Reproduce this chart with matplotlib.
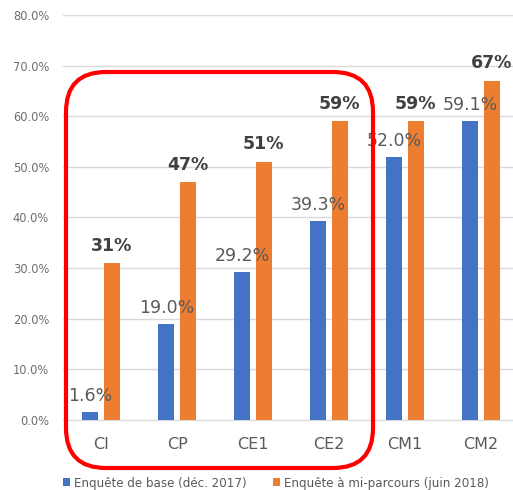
import matplotlib
matplotlib.use("Agg")
import matplotlib.pyplot as plt
import numpy as np
from matplotlib.patches import FancyBboxPatch
from matplotlib.transforms import IdentityTransform

categories = ["CI", "CP", "CE1", "CE2", "CM1", "CM2"]
base_vals = [1.6, 19.0, 29.2, 39.3, 52.0, 59.1]
mid_vals = [31, 47, 51, 59, 59, 67]
series_names = ["Enquête de base (déc. 2017)", "Enquête à mi-parcours (juin 2018)"]
yticks = [0, 10, 20, 30, 40, 50, 60, 70, 80]

blue = "#4472C4"
orange = "#ED7D31"
grey = "#595959"

fig = plt.figure(figsize=(5.13, 4.9), dpi=100)
ax = fig.add_axes([63/513, 70/490, 1 - 63/513, 405/490])

x = np.arange(len(categories))
w = 0.21
gap = 0.035
b1 = ax.bar(x - w/2 - gap, base_vals, w, color=blue, label=series_names[0], zorder=3)
b2 = ax.bar(x + w/2 + gap, mid_vals, w, color=orange, label=series_names[1], zorder=3)

for rect, v in zip(b1, base_vals):
    ax.annotate(f"{v:.1f}%", (rect.get_x() + rect.get_width()/2, v),
                xytext=(0, 5), textcoords="offset points", ha="center", va="bottom",
                fontsize=12.5, color=grey, zorder=4)
for rect, v in zip(b2, mid_vals):
    ax.annotate(f"{v:d}%", (rect.get_x() + rect.get_width()/2, v),
                xytext=(0, 6), textcoords="offset points", ha="center", va="bottom",
                fontsize=12.5, fontweight="bold", color="#404040", zorder=4)

ax.set_ylim(0, 80)
ax.set_xlim(-0.5, 5.42)
ax.set_yticks(yticks)
ax.set_yticklabels([f"{t:.1f}%" for t in yticks], fontsize=8.3, color="#6f6f6f")
ax.set_xticks(x)
ax.set_xticklabels(categories, fontsize=11.5, color=grey)
ax.tick_params(axis="both", length=0)
ax.tick_params(axis="x", pad=12)
ax.tick_params(axis="y", pad=10)
ax.grid(axis="y", color="#d9d9d9", linewidth=1, zorder=0)
for s in ["top", "right", "left"]:
    ax.spines[s].set_visible(False)
ax.spines["bottom"].set_color("#d9d9d9")

leg = fig.legend(handles=[b1, b2], labels=series_names, loc="center",
                 bbox_to_anchor=(0.538, 1 - 483/490), ncol=2, frameon=False,
                 fontsize=8.6, handlelength=0.6, handleheight=0.6,
                 columnspacing=2.2, handletextpad=0.35)
for t in leg.get_texts():
    t.set_color(grey)

box = FancyBboxPatch((66, 22), 307, 396, boxstyle="round,pad=0,rounding_size=40",
                     transform=IdentityTransform(), fill=False, edgecolor="#ff0000",
                     linewidth=3, zorder=10)
fig.patches.append(box)

fig.savefig("out.png", dpi=100)
